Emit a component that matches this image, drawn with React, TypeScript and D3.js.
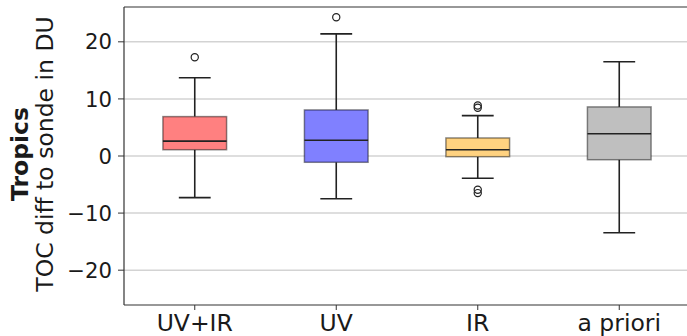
import React from "react";
import * as d3 from "d3";

const categories = ["UV+IR", "UV", "IR", "a priori"];
const q1 = [1.1, -1.1, -0.12, -0.65];
const medians = [2.6, 2.75, 1.1, 3.9];
const q3 = [6.9, 8.07, 3.16, 8.6];
const whiskLow = [-7.3, -7.5, -3.9, -13.45];
const whiskHigh = [13.7, 21.4, 7.07, 16.5];
const outliers = [[17.3], [24.3], [8.45, 8.85, -5.9, -6.5], []];
const fills = ["#ff8080", "#8080ff", "#ffd280", "#bfbfbf"];
const yTicks = [-20, -10, 0, 10, 20];

const W = 687;
const H = 336;
const left = 124;
const top = 7;
const bottom = 305;
const right = 690;

export default function App() {
  const x = d3.scaleLinear().domain([0.5, 4.5]).range([left, right]);
  const y = d3.scaleLinear().domain([-26.1, 26.1]).range([bottom, top]);
  const bw = 0.45;
  const font = "DejaVu Sans, sans-serif";
  return (
    <svg width={W} height={H} style={{ position: "absolute", left: 0, top: 0, background: "#fff" }}>
      {yTicks.map((t) => (
        <g key={t}>
          <line x1={left} x2={right} y1={y(t)} y2={y(t)} stroke="#d3d3d3" strokeWidth={1.5} />
          <line x1={left - 6} x2={left} y1={y(t)} y2={y(t)} stroke="#333" strokeWidth={1} />
          <text x={112} y={y(t)} dy="0.36em" textAnchor="end" fontFamily={font} fontSize={21.2} fill="#1a1a1a">
            {t < 0 ? "\u2212" + Math.abs(t) : String(t)}
          </text>
        </g>
      ))}
      {categories.map((c, i) => {
        const cx = x(i + 1);
        const hw = x(1 + bw / 2) - x(1);
        const cw = hw / 2;
        return (
          <g key={c}>
            <line x1={cx} x2={cx} y1={y(q3[i])} y2={y(whiskHigh[i])} stroke="#222" strokeWidth={1.6} />
            <line x1={cx} x2={cx} y1={y(q1[i])} y2={y(whiskLow[i])} stroke="#222" strokeWidth={1.6} />
            <line x1={cx - cw} x2={cx + cw} y1={y(whiskHigh[i])} y2={y(whiskHigh[i])} stroke="#222" strokeWidth={1.6} />
            <line x1={cx - cw} x2={cx + cw} y1={y(whiskLow[i])} y2={y(whiskLow[i])} stroke="#222" strokeWidth={1.6} />
            <rect x={cx - hw} y={y(q3[i])} width={2 * hw} height={y(q1[i]) - y(q3[i])} fill={fills[i]} stroke="#000" strokeOpacity={0.45} strokeWidth={1.5} />
            <line x1={cx - hw} x2={cx + hw} y1={y(medians[i])} y2={y(medians[i])} stroke="#222" strokeWidth={1.6} />
            {outliers[i].map((o, k) => (
              <circle key={k} cx={cx} cy={y(o)} r={3.6} fill="none" stroke="#222" strokeWidth={1.2} />
            ))}
            <line x1={cx} x2={cx} y1={bottom} y2={bottom + 5} stroke="#333" strokeWidth={1} />
            <text x={cx} y={330.5} textAnchor="middle" fontFamily={font} fontSize={23.5} fill="#1a1a1a">
              {c}
            </text>
          </g>
        );
      })}
      <line x1={left} x2={left} y1={top} y2={bottom} stroke="#333" strokeWidth={1.2} />
      <line x1={left} x2={right} y1={top} y2={top} stroke="#333" strokeWidth={1.2} />
      <line x1={left} x2={right} y1={bottom} y2={bottom} stroke="#333" strokeWidth={1.2} />
      <text transform={`translate(28,154) rotate(-90)`} textAnchor="middle" fontFamily={font} fontSize={23.5} fontWeight="bold" fill="#1a1a1a">
        Tropics
      </text>
      <text transform={`translate(53,154) rotate(-90)`} textAnchor="middle" fontFamily={font} fontSize={23.5} fill="#1a1a1a">
        TOC diff to sonde in DU
      </text>
    </svg>
  );
}
